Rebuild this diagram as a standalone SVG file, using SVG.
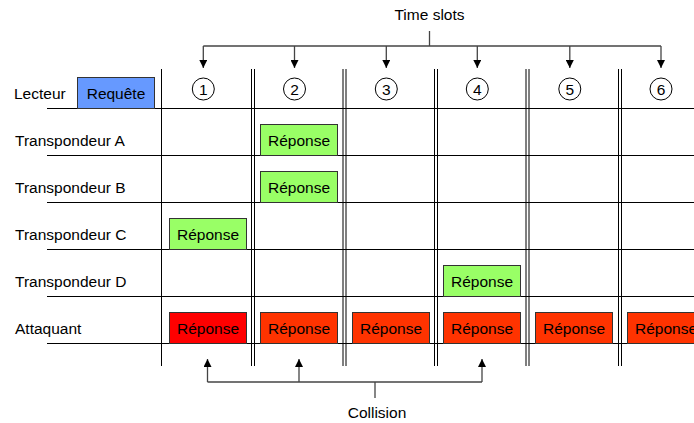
<svg xmlns="http://www.w3.org/2000/svg" width="694" height="423" viewBox="0 0 694 423">
<defs>
<style>
text{font-family:"Liberation Sans",Arial,sans-serif;font-size:15.5px;fill:#000}
.c{text-anchor:middle}
.grid{stroke:#000;stroke-width:1;fill:none}
.box{stroke:#333;stroke-width:1}
.req{fill:#6699FF}
.ok{fill:#99FF66}
.att1{fill:#FF0000}
.att{fill:#FF3300}
.slot{fill:#fff;stroke:#000;stroke-width:1}
.conn{stroke:#444;stroke-width:1.3;fill:none}
</style>
<marker id="ah" viewBox="0 0 8 8" refX="8" refY="4" markerWidth="8" markerHeight="8" markerUnits="userSpaceOnUse" orient="auto">
<path d="M0,0 L8,4 L0,8 z" fill="#000"/>
</marker>
</defs>
<rect width="694" height="423" fill="#fff"/>

<g id="grid" class="grid">
<path d="M47,108.5H694 M47,155.5H694 M47,202.5H694 M47,249.5H694 M47,296.5H694 M47,343.5H694"/>
<path d="M161.5,69V366"/>
<path d="M251.5,69V366 M254.5,69V366"/>
<path d="M343,69V366 M346,69V366"/>
<path d="M434.5,69V366 M437.5,69V366"/>
<path d="M526,69V366 M529,69V366"/>
<path d="M618.5,69V366 M621.5,69V366"/>
</g>

<g id="labels">
<text x="14" y="99">Lecteur</text>
<text x="15" y="146">Transpondeur A</text>
<text x="15" y="193">Transpondeur B</text>
<text x="15" y="240">Transpondeur C</text>
<text x="15" y="287">Transpondeur D</text>
<text x="15" y="334">Attaquant</text>
</g>

<g id="slots">
<g id="slot1"><circle class="slot" cx="203.3" cy="89" r="11"/><text class="c" x="203.3" y="94.5">1</text></g>
<g id="slot2"><circle class="slot" cx="294.5" cy="89" r="11"/><text class="c" x="294.5" y="94.5">2</text></g>
<g id="slot3"><circle class="slot" cx="386.3" cy="89" r="11"/><text class="c" x="386.3" y="94.5">3</text></g>
<g id="slot4"><circle class="slot" cx="477.3" cy="89" r="11"/><text class="c" x="477.3" y="94.5">4</text></g>
<g id="slot5"><circle class="slot" cx="569.8" cy="89" r="11"/><text class="c" x="569.8" y="94.5">5</text></g>
<g id="slot6"><circle class="slot" cx="661" cy="89" r="11"/><text class="c" x="661" y="94.5">6</text></g>
</g>

<g id="requete"><rect class="box req" x="77.5" y="77.5" width="77" height="31"/><text class="c" x="116" y="99">Requête</text></g>
<g id="repA"><rect class="box ok" x="260.5" y="124.5" width="77" height="31"/><text class="c" x="299" y="146">Réponse</text></g>
<g id="repB"><rect class="box ok" x="260.5" y="171.5" width="77" height="31"/><text class="c" x="299" y="193">Réponse</text></g>
<g id="repC"><rect class="box ok" x="169.5" y="218.5" width="77" height="31"/><text class="c" x="208" y="240">Réponse</text></g>
<g id="repD"><rect class="box ok" x="443.5" y="265.5" width="77" height="31"/><text class="c" x="482" y="287">Réponse</text></g>
<g id="att1"><rect class="box att1" x="169.5" y="312.5" width="77" height="31"/><text class="c" x="208" y="334">Réponse</text></g>
<g id="att2"><rect class="box att" x="260.5" y="312.5" width="77" height="31"/><text class="c" x="299" y="334">Réponse</text></g>
<g id="att3"><rect class="box att" x="352.5" y="312.5" width="77" height="31"/><text class="c" x="391" y="334">Réponse</text></g>
<g id="att4"><rect class="box att" x="443.5" y="312.5" width="77" height="31"/><text class="c" x="482" y="334">Réponse</text></g>
<g id="att5"><rect class="box att" x="535.5" y="312.5" width="77" height="31"/><text class="c" x="574" y="334">Réponse</text></g>
<g id="att6"><rect class="box att" x="627.5" y="312.5" width="77" height="31"/><text class="c" x="666" y="334">Réponse</text></g>

<g id="timeslots"><text class="c" x="429.5" y="20">Time slots</text></g>
<g id="collision"><text class="c" x="377" y="418">Collision</text></g>

<g id="connectors" class="conn">
<path d="M429.5,31V46"/>
<path d="M203.3,46H661"/>
<path d="M203.3,46V68" marker-end="url(#ah)"/>
<path d="M294.5,46V68" marker-end="url(#ah)"/>
<path d="M386.3,46V68" marker-end="url(#ah)"/>
<path d="M477.3,46V68" marker-end="url(#ah)"/>
<path d="M569.8,46V68" marker-end="url(#ah)"/>
<path d="M661,46V68" marker-end="url(#ah)"/>
<path d="M207.5,382H482"/>
<path d="M375,382V398"/>
<path d="M207.5,382V359" marker-end="url(#ah)"/>
<path d="M299,382V359" marker-end="url(#ah)"/>
<path d="M482,382V359" marker-end="url(#ah)"/>
</g>
</svg>
